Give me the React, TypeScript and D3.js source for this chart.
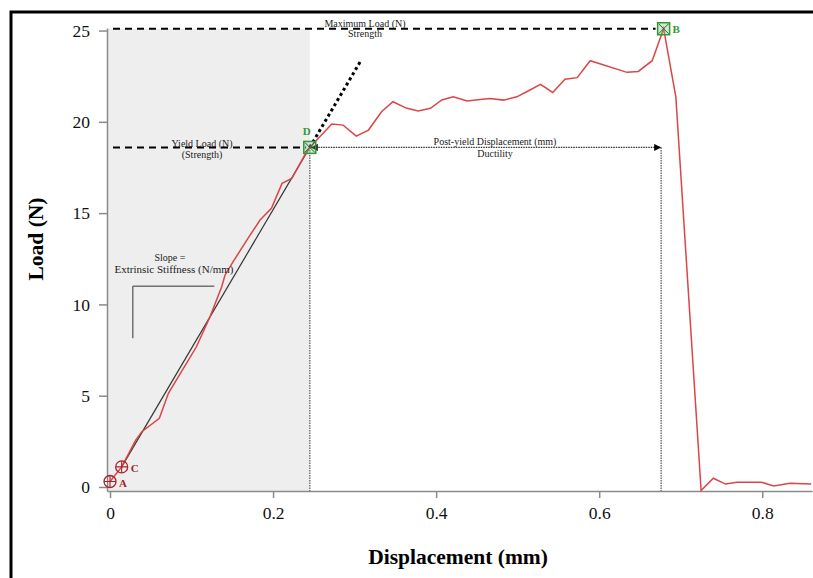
import React, { useEffect, useRef } from 'react'
import * as d3 from 'd3'

// load-displacement curve
const displacement = [0, 0.0143, 0.0315, 0.039, 0.0605, 0.0716, 0.09, 0.106, 0.1227, 0.137, 0.141, 0.151, 0.168, 0.184, 0.198, 0.211, 0.223, 0.241, 0.245, 0.272, 0.286, 0.302, 0.317, 0.333, 0.347, 0.364, 0.378, 0.393, 0.407, 0.421, 0.438, 0.454, 0.466, 0.483, 0.499, 0.511, 0.528, 0.543, 0.558, 0.573, 0.589, 0.634, 0.648, 0.665, 0.679, 0.694, 0.725, 0.74, 0.755, 0.769, 0.799, 0.814, 0.834, 0.86]
const load = [0.3, 1.1, 2.57, 3.03, 3.76, 5.13, 6.5, 7.68, 9.33, 10.97, 11.6, 12.34, 13.53, 14.62, 15.26, 16.63, 16.9, 18.36, 18.6, 19.88, 19.82, 19.22, 19.55, 20.55, 21.1, 20.74, 20.59, 20.74, 21.2, 21.37, 21.14, 21.23, 21.28, 21.19, 21.37, 21.65, 22.05, 21.61, 22.33, 22.42, 23.35, 22.71, 22.76, 23.35, 25.1, 21.37, -0.2, 0.48, 0.16, 0.26, 0.26, 0.05, 0.2, 0.16]

const xTicks = [0, 0.2, 0.4, 0.6, 0.8]
const yTicks = [0, 5, 10, 15, 20, 25]

// key points
const pointA = { x: 0, y: 0.3, label: 'A' }
const pointC = { x: 0.0143, y: 1.1, label: 'C' }
const pointD = { x: 0.245, y: 18.6, label: 'D' }
const pointB = { x: 0.679, y: 25.1, label: 'B' }
const postYieldEnd = 0.676
const slopeEnd = { x: 0.307, y: 23.3 }
const bracket = { x0: 0.028, x1: 0.128, yTop: 11.0, yBottom: 8.15 }

const W = 813
const H = 578
const serif = '"Liberation Serif", "Times New Roman", serif'
const red = '#dc4548'
const darkRed = '#a8232d'
const green = '#2f9a36'

const App: React.FC = () => {
  const svgRef = useRef<SVGSVGElement>(null)

  useEffect(() => {
    const svg = d3.select(svgRef.current)
    svg.selectAll('*').remove()

    const x = d3.scaleLinear().domain([-0.0037, 0.861]).range([107, 812])
    const y = d3.scaleLinear().domain([-0.22, 25.14]).range([491, 28])

    svg.append('rect').attr('width', W).attr('height', H).attr('fill', '#fff')

    // 外框
    svg.append('path')
      .attr('d', `M11,${H} L11,12 L${W},12`)
      .attr('fill', 'none')
      .attr('stroke', '#000')
      .attr('stroke-width', 3)

    // 弹性区阴影
    svg.append('rect')
      .attr('x', x.range()[0])
      .attr('y', y(25.1))
      .attr('width', x(pointD.x) - x.range()[0])
      .attr('height', y.range()[0] - y(25.1))
      .attr('fill', '#eeeeee')

    // axes
    const xAxis = svg.append('g')
      .attr('transform', `translate(0,${y.range()[0]})`)
      .call(d3.axisBottom(x).tickValues(xTicks).tickSize(7).tickSizeOuter(0).tickPadding(9).tickFormat(d => `${d}`))
    const yAxis = svg.append('g')
      .attr('transform', `translate(${x.range()[0]},0)`)
      .call(d3.axisLeft(y).tickValues(yTicks).tickSize(8).tickSizeOuter(0).tickPadding(9))
    ;[xAxis, yAxis].forEach(a => {
      a.selectAll('path, line').attr('stroke', '#8a8a8a').attr('stroke-width', 1.5)
      a.selectAll('text').attr('font-family', serif).attr('font-size', 17.5).attr('fill', '#111')
    })

    svg.append('text')
      .attr('x', 458).attr('y', 564)
      .attr('text-anchor', 'middle')
      .attr('font-family', serif).attr('font-size', 21.5).attr('font-weight', 'bold')
      .text('Displacement (mm)')
    svg.append('text')
      .attr('transform', 'translate(43,239) rotate(-90)')
      .attr('text-anchor', 'middle')
      .attr('font-family', serif).attr('font-size', 21.5).attr('font-weight', 'bold')
      .text('Load (N)')

    // vertical dotted guides
    ;[pointD.x, postYieldEnd].forEach(v => {
      svg.append('line')
        .attr('x1', x(v)).attr('x2', x(v))
        .attr('y1', y(pointD.y)).attr('y2', y.range()[0])
        .attr('stroke', '#777').attr('stroke-width', 1.5).attr('stroke-dasharray', '1.5,1')
    })

    // 最大载荷 / 屈服载荷 dashed lines
    svg.append('line')
      .attr('x1', 113).attr('x2', x(pointB.x) - 8)
      .attr('y1', y(pointB.y)).attr('y2', y(pointB.y))
      .attr('stroke', '#000').attr('stroke-width', 2).attr('stroke-dasharray', '7,5')
    svg.append('line')
      .attr('x1', 113).attr('x2', x(pointD.x) - 4)
      .attr('y1', y(pointD.y)).attr('y2', y(pointD.y))
      .attr('stroke', '#000').attr('stroke-width', 2).attr('stroke-dasharray', '7,5')

    // slope extension
    svg.append('line')
      .attr('x1', x(pointD.x)).attr('y1', y(pointD.y))
      .attr('x2', x(slopeEnd.x)).attr('y2', y(slopeEnd.y))
      .attr('stroke', '#000').attr('stroke-width', 3).attr('stroke-dasharray', '3,3')

    // stiffness bracket
    svg.append('path')
      .attr('d', `M${x(bracket.x0)},${y(bracket.yBottom)} L${x(bracket.x0)},${y(bracket.yTop)} L${x(bracket.x1)},${y(bracket.yTop)}`)
      .attr('fill', 'none').attr('stroke', '#333').attr('stroke-width', 1)

    // arrow markers
    const defs = svg.append('defs')
    defs.append('marker')
      .attr('id', 'arrow').attr('viewBox', '0 0 10 10')
      .attr('refX', 10).attr('refY', 5)
      .attr('markerWidth', 10).attr('markerHeight', 7)
      .attr('markerUnits', 'userSpaceOnUse')
      .attr('orient', 'auto-start-reverse')
      .append('path').attr('d', 'M0,0 L10,5 L0,10 Z').attr('fill', '#000')

    svg.append('line')
      .attr('x1', x(pointD.x) + 1).attr('x2', x(postYieldEnd))
      .attr('y1', y(pointD.y)).attr('y2', y(pointD.y))
      .attr('stroke', '#333').attr('stroke-width', 1.3).attr('stroke-dasharray', '1.5,1')
      .attr('marker-start', 'url(#arrow)').attr('marker-end', 'url(#arrow)')

    // 线性拟合
    svg.append('line')
      .attr('x1', x(pointC.x)).attr('y1', y(pointC.y))
      .attr('x2', x(pointD.x)).attr('y2', y(pointD.y))
      .attr('stroke', '#333').attr('stroke-width', 1.2)

    // red curve
    const line = d3.line<number>()
      .x((_, i) => x(displacement[i]))
      .y(d => y(d))
    svg.append('path')
      .datum(load)
      .attr('d', line)
      .attr('fill', 'none').attr('stroke', red).attr('stroke-width', 1.5)

    // annotation text
    const note = (tx: number, ty: number, s: string, size = 10) =>
      svg.append('text')
        .attr('x', tx).attr('y', ty).attr('text-anchor', 'middle')
        .attr('font-family', serif).attr('font-size', size).attr('fill', '#222')
        .text(s)
    note(365, 27, 'Maximum Load (N)')
    note(365, 37, 'Strength')
    note(202, 147, 'Yield Load (N)')
    note(202, 158, '(Strength)')
    note(495, 145, 'Post-yield Displacement (mm)')
    note(495, 157, 'Ductility')
    note(170, 261, 'Slope =')
    note(174, 273, 'Extrinsic Stiffness (N/mm)', 11)

    // circle markers A and C
    ;[pointA, pointC].forEach(p => {
      const cx = x(p.x), cy = y(p.y)
      svg.append('circle').attr('cx', cx).attr('cy', cy).attr('r', 6)
        .attr('fill', 'none').attr('stroke', darkRed).attr('stroke-width', 1.3)
      svg.append('path')
        .attr('d', `M${cx - 6},${cy} L${cx + 6},${cy} M${cx},${cy - 6} L${cx},${cy + 6}`)
        .attr('stroke', darkRed).attr('stroke-width', 1.1)
      svg.append('text')
        .attr('x', cx + 9).attr('y', cy + 5)
        .attr('font-family', serif).attr('font-size', 11).attr('font-weight', 'bold')
        .attr('fill', darkRed).text(p.label)
    })

    // square markers D and B
    ;[pointD, pointB].forEach(p => {
      const cx = x(p.x), cy = y(p.y)
      svg.append('rect').attr('x', cx - 6).attr('y', cy - 6).attr('width', 12).attr('height', 12)
        .attr('fill', 'rgba(120,200,120,0.35)').attr('stroke', green).attr('stroke-width', 1.5)
      svg.append('path')
        .attr('d', `M${cx - 5},${cy - 5} L${cx + 5},${cy + 5} M${cx + 5},${cy - 5} L${cx - 5},${cy + 5}`)
        .attr('stroke', '#3a5a3a').attr('stroke-width', 1)
    })
    svg.append('text')
      .attr('x', x(pointD.x) - 3).attr('y', y(pointD.y) - 12).attr('text-anchor', 'middle')
      .attr('font-family', serif).attr('font-size', 11).attr('font-weight', 'bold')
      .attr('fill', green).text(pointD.label)
    svg.append('text')
      .attr('x', x(pointB.x) + 9).attr('y', y(pointB.y) + 4)
      .attr('font-family', serif).attr('font-size', 11).attr('font-weight', 'bold')
      .attr('fill', green).text(pointB.label)
  }, [])

  return (
    <svg ref={svgRef} width={W} height={H}
      style={{ position: 'absolute', left: 0, top: 0, display: 'block' }} />
  )
}

export default App
